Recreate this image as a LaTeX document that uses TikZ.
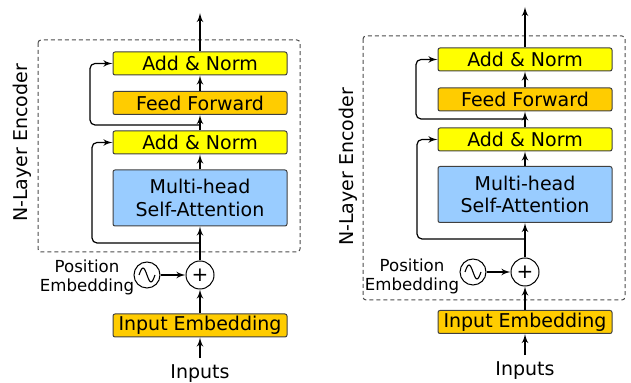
\documentclass[tikz,border=0pt]{standalone}
\usepackage{fontspec}
\setmainfont{DejaVu Sans}
\usetikzlibrary{shapes,arrows}
\definecolor{normyellow}{RGB}{255,255,0}
\definecolor{ffworange}{RGB}{255,204,0}
\definecolor{attnblue}{RGB}{153,204,255}
\tikzstyle{block} = [rectangle, draw=black!75, line width=0.5pt, align=center,
    rounded corners=1pt, minimum width=87pt, minimum height=11.5pt, inner sep=0pt,
    font=\fontsize{9.5}{11.4}\selectfont]
\tikzstyle{addnorm} = [block, fill=normyellow]
\tikzstyle{ffw} = [block, fill=ffworange]
\tikzstyle{attn} = [block, fill=attnblue, minimum height=28pt]
\tikzstyle{op} = [circle, draw, line width=0.5pt, minimum size=14pt, inner sep=0pt]
\tikzstyle{txt} = [font=\fontsize{9.5}{11}\selectfont]
\tikzstyle{postxt} = [align=center, font=\fontsize{8.3}{9.6}\selectfont]
\tikzstyle{layer} = [draw=black!70, dash pattern=on 2pt off 1.5pt, rounded corners=1.5pt, line width=0.5pt]
\tikzstyle{line} = [draw, line width=0.6pt, -latex']
\tikzstyle{skip} = [line, rounded corners=2.5pt]

\begin{document}
\begin{tikzpicture}[x=0.5pt, y=-0.5pt]
    \useasboundingbox (0,0) rectangle (631,383);
    % Left encoder: position embedding outside the layer
    \draw [layer] (38,40) rectangle (300,252);
    \node [txt, rotate=90] (nameA) at (22,143) {N-Layer Encoder};
    \node [addnorm] (addA) at (200,63.5) {Add \& Norm};
    \node [ffw] (ffA) at (200,103) {Feed Forward};
    \node [addnorm] (normA) at (200,142.5) {Add \& Norm};
    \node [attn] (attA) at (200,198) {Multi-head\\Self-Attention};
    \node [op, font=\fontsize{10}{10}\selectfont] (plusA) at (200,275) {+};
    \node [op, minimum size=13pt] (sinA) at (147,275) {};
    \node [postxt] (posA) at (87,277.5) {Position\\Embedding};
    \node [ffw] (embA) at (200,325.5) {Input Embedding};
    \node [txt] (inA) at (200,374) {Inputs};
    \coordinate (outA) at (200,13);
    \coordinate (resA) at (200,243);
    \coordinate (resB) at (200,125);
    \draw [line width=0.55pt] (sinA.center) ++(-8,0) sin ++(4,-7) cos ++(4,7) sin ++(4,7) cos ++(4,-7);
    % Draw edges
    \path [line] (inA) -- (embA);
    \path [line] (embA) -- (plusA);
    \path [line] (sinA) -- (plusA);
    \path [line] (plusA) -- (attA);
    \path [line] (attA) -- (normA);
    \path [line] (normA) -- (ffA);
    \path [line] (ffA) -- (addA);
    \path [line] (addA) -- (outA);
    \path [skip] (resA) -- (92,243) |- (normA.west);
    \path [skip] (resB) -- (90,125) |- (addA.west);

    % Right encoder: position embedding inside the layer
    \draw [layer] (363,36) rectangle (625,300);
    \node [txt, rotate=90] (nameB) at (348,167) {N-Layer Encoder};
    \node [addnorm] (addB) at (525,59.5) {Add \& Norm};
    \node [ffw] (ffB) at (525,99.5) {Feed Forward};
    \node [addnorm] (normB) at (525,139.5) {Add \& Norm};
    \node [attn] (attB) at (525,194.5) {Multi-head\\Self-Attention};
    \node [op, font=\fontsize{10}{10}\selectfont] (plusB) at (525,272) {+};
    \node [op, minimum size=13pt] (sinB) at (473,272) {};
    \node [postxt] (posB) at (412,276.5) {Position\\Embedding};
    \node [ffw] (embB) at (525,322) {Input Embedding};
    \node [txt] (inB) at (525,371) {Inputs};
    \coordinate (outB) at (525,7);
    \coordinate (resC) at (525,239);
    \coordinate (resD) at (525,119);
    \draw [line width=0.55pt] (sinB.center) ++(-8,0) sin ++(4,-7) cos ++(4,7) sin ++(4,7) cos ++(4,-7);
    % Draw edges
    \path [line] (inB) -- (embB);
    \path [line] (embB) -- (plusB);
    \path [line] (sinB) -- (plusB);
    \path [line] (plusB) -- (attB);
    \path [line] (attB) -- (normB);
    \path [line] (normB) -- (ffB);
    \path [line] (ffB) -- (addB);
    \path [line] (addB) -- (outB);
    \path [skip] (resC) -- (417,239) |- (normB.west);
    \path [skip] (resD) -- (416,119) |- (addB.west);
\end{tikzpicture}
\end{document}
